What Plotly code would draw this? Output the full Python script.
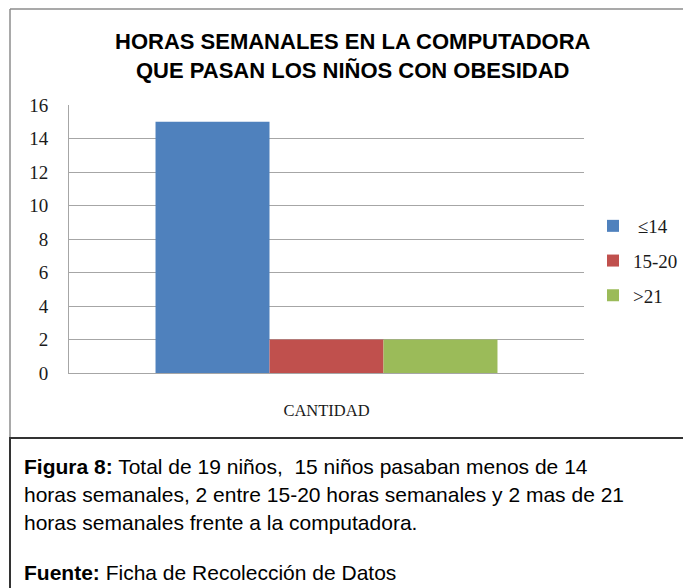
import plotly.graph_objects as go

# datos
categoria = ["CANTIDAD"]
grupos = [" ≤14", "15-20", ">21"]
valores = [15, 2, 2]
colores = ["#4F81BD", "#C0504D", "#9BBB59"]
ticks_y = [0, 2, 4, 6, 8, 10, 12, 14, 16]

W, H = 683, 588

def px(x):
    return x / W

def py(y):
    return 1 - y / H

fig = go.Figure()
for i in range(len(grupos)):
    fig.add_trace(go.Bar(
        x=categoria, y=[valores[i]], name=grupos[i],
        marker=dict(color=colores[i], line=dict(width=0)),
        legendgroup=str(i),
    ))

fig.update_layout(
    template="none",
    autosize=False,
    width=W, height=H,
    margin=dict(l=0, r=0, t=0, b=0),
    paper_bgcolor="white", plot_bgcolor="white",
    barmode="group", bargap=0.336, bargroupgap=0,
    font=dict(family="Liberation Serif", size=18, color="#1a1a1a"),
    legend=dict(x=px(593), y=py(207), xanchor="left", yanchor="top",
                traceorder="grouped", tracegroupgap=7, itemwidth=30,
                font=dict(family="Liberation Serif", size=19, color="#1a1a1a"),
                bgcolor="rgba(0,0,0,0)"),
)

fig.update_xaxes(
    domain=[px(69), px(584)], automargin=False,
    showgrid=False, showline=True, linecolor="#A6A6A6", linewidth=1,
    ticks="outside", ticklen=22, tickcolor="rgba(0,0,0,0)",
    tickfont=dict(family="Liberation Serif", size=16.5, color="#1a1a1a"),
    zeroline=False,
)
fig.update_yaxes(
    domain=[py(373), py(105)], automargin=False,
    range=[0, 16], tickvals=ticks_y,
    showgrid=True, gridcolor="#A6A6A6", gridwidth=1,
    showline=True, linecolor="#A6A6A6", linewidth=1,
    ticks="", ticklabelstandoff=16,
    tickfont=dict(family="Liberation Serif", size=19, color="#1a1a1a"),
    zeroline=False,
)

# titulo
fig.add_annotation(
    text="<b>HORAS SEMANALES EN LA COMPUTADORA<br>QUE PASAN LOS NIÑOS CON OBESIDAD</b>",
    x=px(353), y=py(56), xref="paper", yref="paper", showarrow=False,
    xanchor="center", yanchor="middle", align="center",
    font=dict(family="Liberation Sans", size=22, color="#000000"),
)

# marcos (solo lineas dentro de la figura)
gris = dict(color="#8C8C8C", width=1.5)
oscuro = dict(color="#333333", width=2)
fig.add_shape(type="line", xref="paper", yref="paper",
              x0=px(10), x1=1, y0=py(9), y1=py(9), line=gris)
fig.add_shape(type="line", xref="paper", yref="paper",
              x0=px(10), x1=px(10), y0=py(9), y1=py(437), line=gris)
fig.add_shape(type="line", xref="paper", yref="paper",
              x0=px(9), x1=1, y0=py(438), y1=py(438), line=oscuro)
fig.add_shape(type="line", xref="paper", yref="paper",
              x0=px(10), x1=px(10), y0=py(438), y1=0, line=oscuro)

# pie de figura
lineas = [
    ("<b>Figura 8:</b> Total de 19 niños,  15 niños pasaban menos de 14", 466),
    ("horas semanales, 2 entre 15-20 horas semanales y 2 mas de 21", 494),
    ("horas semanales frente a la computadora.", 522),
    ("<b>Fuente:</b> Ficha de Recolección de Datos", 572),
]
for txt, yy in lineas:
    fig.add_annotation(
        text=txt, x=px(22), y=py(yy), xref="paper", yref="paper",
        showarrow=False, xanchor="left", yanchor="middle", align="left",
        font=dict(family="Liberation Sans", size=21, color="#000000"),
    )

fig.write_html(
    "out.html", config={"displayModeBar": False},
    post_script="document.documentElement.style.overflow='hidden';"
                "document.body.style.margin='0';document.body.style.overflow='hidden';"
                "document.getElementById('{plot_id}').style.overflow='hidden';",
)
